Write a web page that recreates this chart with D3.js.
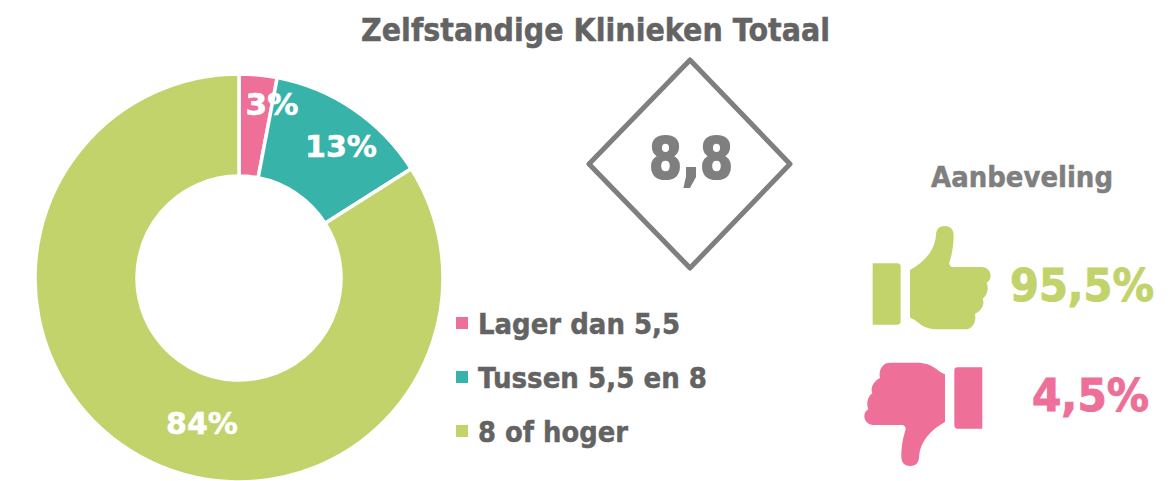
<!DOCTYPE html>
<html lang="nl">
<head>
    <meta charset="UTF-8">
    <title>Zelfstandige Klinieken Totaal</title>
    <script src="https://d3js.org/d3.v7.min.js"></script>
    <style>
        html, body { margin: 0; padding: 0; background: white; }
        svg { display: block; }
        text { font-family: "DejaVu Sans", sans-serif; font-weight: bold; }
    </style>
</head>
<body>
    <svg id="svg"></svg>
    <script>
        const categories = ['Lager dan 5,5', 'Tussen 5,5 en 8', '8 of hoger'];
        const shares = [3, 13, 84];
        const colors = ['#ee6f98', '#38b3a9', '#c2d36b'];
        const title = 'Zelfstandige Klinieken Totaal';
        const score = '8,8';
        const adviceTitle = 'Aanbeveling';
        const adviceLabels = ['95,5%', '4,5%'];

        const width = 1174;
        const height = 481;
        const svg = d3.select('#svg').attr('width', width).attr('height', height);

        // text is squeezed to the measured width, DejaVu runs wider than the original
        // a thin stroke in the same colour brings back the weight lost by squeezing
        function label(x, y, str, size, fill, len, weight) {
            return svg.append('text')
                .attr('x', x).attr('y', y)
                .attr('font-size', size)
                .attr('fill', fill)
                .attr('stroke', fill)
                .attr('stroke-width', weight)
                .attr('textLength', len)
                .attr('lengthAdjust', 'spacingAndGlyphs')
                .text(str);
        }

        //Donut
        const pie = d3.pie().sort(null)(shares);
        const arc = d3.arc().innerRadius(102).outerRadius(204);
        const donut = svg.append('g').attr('transform', 'translate(239,278)');
        donut.selectAll('path')
            .data(pie)
            .enter()
            .append('path')
            .attr('d', arc)
            .attr('fill', (d, i) => colors[i])
            .attr('stroke', 'white')
            .attr('stroke-width', 3.5);

        const labelPos = [[33, -163], [102, -121], [-37, 156]];
        donut.selectAll('text')
            .data(shares)
            .enter()
            .append('text')
            .attr('x', (d, i) => labelPos[i][0])
            .attr('y', (d, i) => labelPos[i][1])
            .attr('text-anchor', 'middle')
            .attr('font-size', 30)
            .attr('fill', 'white')
            .attr('stroke', 'white')
            .attr('stroke-width', 0.5)
            .attr('textLength', (d) => d < 10 ? 53 : 72)
            .attr('lengthAdjust', 'spacingAndGlyphs')
            .text((d) => d + '%');

        //Legend
        const legendY = d3.scalePoint().domain(categories).range([323, 431]);
        const legendWidths = [202, 229, 150];
        const legend = svg.append('g');
        legend.selectAll('rect')
            .data(categories)
            .enter()
            .append('rect')
            .attr('x', 456)
            .attr('y', (d) => legendY(d) - 6)
            .attr('width', 12)
            .attr('height', 12)
            .attr('fill', (d, i) => colors[i]);
        legend.selectAll('text')
            .data(categories)
            .enter()
            .append('text')
            .attr('x', 478)
            .attr('y', (d) => legendY(d) + 11)
            .attr('font-size', 29)
            .attr('fill', '#636363')
            .attr('stroke', '#636363')
            .attr('stroke-width', 0.5)
            .attr('textLength', (d, i) => legendWidths[i])
            .attr('lengthAdjust', 'spacingAndGlyphs')
            .text((d) => d);

        //Title and score
        label(361, 41, title, 32, '#636363', 469, 0.5);
        svg.append('path')
            .attr('d', 'M690,60 L790,164 L690,268 L589,164 Z')
            .attr('fill', 'none')
            .attr('stroke', '#7f7f7f')
            .attr('stroke-width', 5)
            .attr('stroke-linejoin', 'round');
        label(649, 179, score, 57, '#7f7f7f', 84, 2);

        //Recommendation
        label(931, 187, adviceTitle, 28, '#7f7f7f', 182, 0.5);
        label(1010, 301, adviceLabels[0], 44, colors[2], 144, 1);
        label(1032, 411, adviceLabels[1], 44, colors[0], 117, 1);

        const cuff = 'M68,160 H142 Q152,160 152,170 V334 Q152,344 142,344 H68 Z';
        const hand = 'M180,180 C225,155 255,120 258,75 C258,58 268,48 285,48 C302,48 311,60 311,75 '
            + 'C311,110 305,135 298,158 C298,168 303,171 310,171 L395,171 C412,171 422,185 422,197 '
            + 'C422,207 417,214 410,218 C416,232 414,255 398,266 C404,280 398,300 375,312 '
            + 'C380,335 368,358 345,358 L265,358 C240,358 222,352 205,338 C195,330 188,325 180,323 Z';
        const up = svg.append('g').attr('transform', 'translate(850,210) scale(0.3333)').attr('fill', colors[2]);
        up.append('path').attr('d', cuff);
        up.append('path').attr('d', hand);
        const down = svg.append('g').attr('transform', 'translate(850,210) scale(0.3333) translate(465,816) rotate(180)').attr('fill', colors[0]);
        down.append('path').attr('d', cuff);
        down.append('path').attr('d', hand);
    </script>
</body>
</html>
